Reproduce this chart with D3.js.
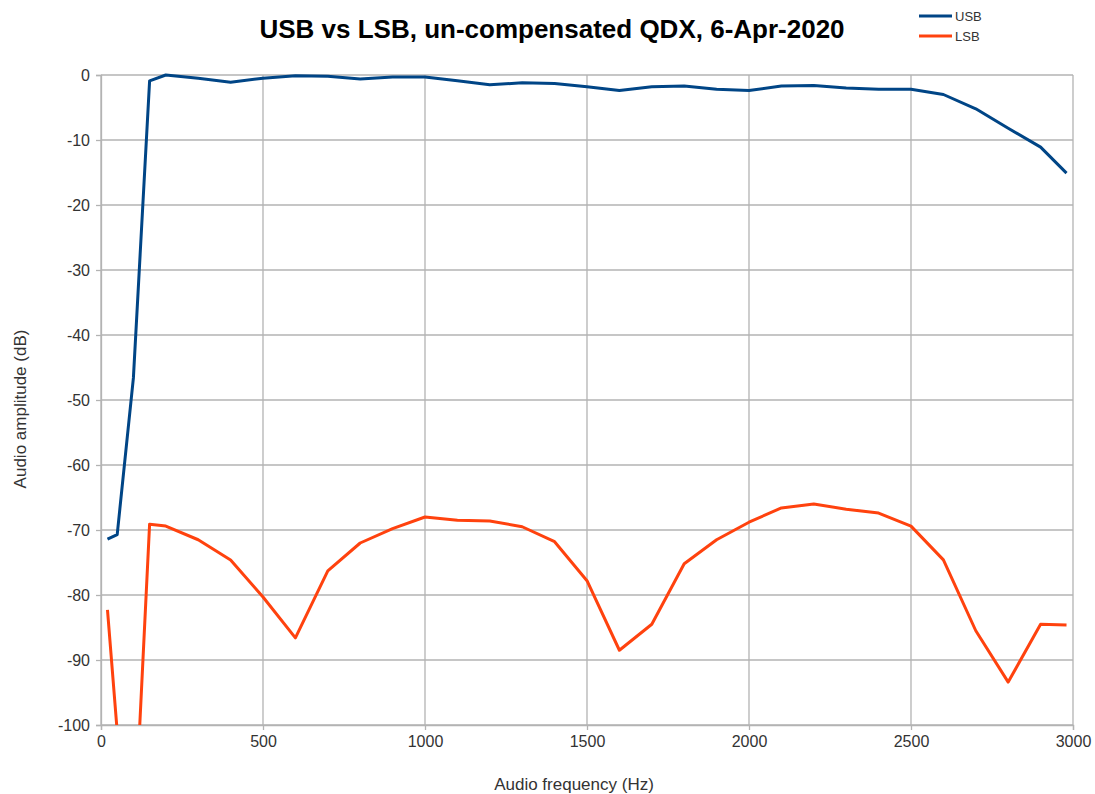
<!DOCTYPE html>
<html><head><meta charset="utf-8">
<script src="https://cdn.jsdelivr.net/npm/d3@7"></script>
<style>body{margin:0;background:#fff;font-family:"Liberation Sans",Arial,sans-serif}</style>
</head><body>
<svg id="c" width="1095" height="794"></svg>
<script>
const freqs = [20,50,100,150,200,300,400,500,600,700,800,900,1000,1100,1200,1300,1400,1500,1600,1700,1800,1900,2000,2100,2200,2300,2400,2500,2600,2700,2800,2900,2980];
const usb = [-71.4,-70.7,-46.6,-0.9,0,-0.5,-1.1,-0.5,-0.1,-0.2,-0.6,-0.3,-0.3,-0.9,-1.5,-1.2,-1.3,-1.8,-2.4,-1.8,-1.7,-2.2,-2.4,-1.7,-1.6,-2.0,-2.2,-2.2,-3.0,-5.2,-8.2,-11.1,-15.1];
const lsb = [-82.3,-101,-120,-69.1,-69.4,-71.5,-74.6,-80.3,-86.6,-76.3,-72.0,-69.8,-68.0,-68.5,-68.6,-69.5,-71.8,-77.8,-88.5,-84.5,-75.2,-71.5,-68.8,-66.6,-66.0,-66.8,-67.4,-69.4,-74.6,-85.5,-93.4,-84.5,-84.6];
const xTicks = [0,500,1000,1500,2000,2500,3000];
const yTicks = [0,-10,-20,-30,-40,-50,-60,-70,-80,-90,-100];
const seriesNames = ["USB","LSB"];
const colors = ["#004586","#ff420e"];

const svg = d3.select("#c");
const L=101, R=1073, T=75, B=725;
const x = d3.scaleLinear().domain([0,3000]).range([L,R]);
const y = d3.scaleLinear().domain([-100,0]).range([B,T]);

// grid
svg.append("g").selectAll("line").data(yTicks).join("line")
  .attr("x1",L).attr("x2",R).attr("y1",d=>y(d)).attr("y2",d=>y(d))
  .attr("stroke","#b3b3b3").attr("stroke-width",1.3);
svg.append("g").selectAll("line").data(xTicks).join("line")
  .attr("y1",T).attr("y2",B).attr("x1",d=>x(d)).attr("x2",d=>x(d))
  .attr("stroke","#b3b3b3").attr("stroke-width",1.3);

// axes
const fmt = d => String(d);
const ya = svg.append("g").attr("transform",`translate(${L},0)`)
  .call(d3.axisLeft(y).tickValues(yTicks).tickSize(5).tickPadding(6).tickFormat(fmt));
const xa = svg.append("g").attr("transform",`translate(0,${B})`)
  .call(d3.axisBottom(x).tickValues(xTicks).tickSize(5).tickPadding(6).tickFormat(fmt));
[ya,xa].forEach(a=>{
  a.select(".domain").attr("stroke","#b3b3b3").attr("stroke-width",1.3);
  a.selectAll(".tick line").attr("stroke","#b3b3b3").attr("stroke-width",1.3);
  a.selectAll("text").attr("fill","#333").style("font-size","16px").style("font-family","Liberation Sans, Arial, sans-serif");
});

svg.append("defs").append("clipPath").attr("id","clip")
  .append("rect").attr("x",L).attr("y",T-5).attr("width",R-L+5).attr("height",B-T+5);

const line = d3.line().x((d,i)=>x(freqs[i])).y(d=>y(d));
[usb,lsb].forEach((s,k)=>{
  svg.append("path").datum(s).attr("d",line).attr("fill","none")
    .attr("stroke",colors[k]).attr("stroke-width",3).attr("stroke-linejoin","round")
    .attr("clip-path","url(#clip)");
});

// title
svg.append("text").attr("x",552).attr("y",38).attr("text-anchor","middle")
  .style("font-size","26px").style("font-weight","bold").attr("fill","#000")
  .text("USB vs LSB, un-compensated QDX, 6-Apr-2020");

// axis titles
svg.append("text").attr("x",574).attr("y",790).attr("text-anchor","middle")
  .style("font-size","17px").attr("fill","#333").text("Audio frequency (Hz)");
svg.append("text").attr("transform","translate(26,409) rotate(-90)").attr("text-anchor","middle")
  .style("font-size","17px").attr("fill","#333").text("Audio amplitude (dB)");

// legend
const lg = svg.append("g");
seriesNames.forEach((n,i)=>{
  const yy = 16 + i*20;
  lg.append("line").attr("x1",919).attr("x2",952).attr("y1",yy).attr("y2",yy)
    .attr("stroke",colors[i]).attr("stroke-width",3);
  lg.append("text").attr("x",955).attr("y",yy+4.5).style("font-size","13px").attr("fill","#333").text(n);
});
</script>
</body></html>
